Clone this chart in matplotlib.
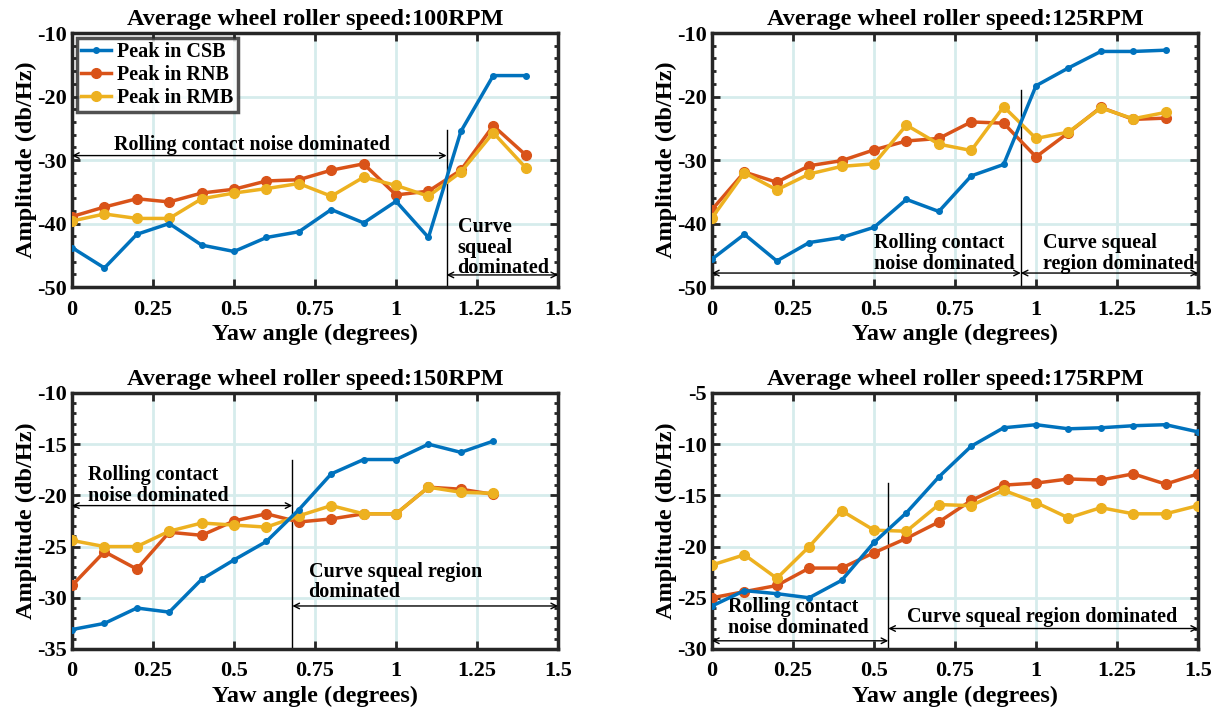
import numpy as np
import matplotlib.pyplot as plt
from matplotlib.ticker import MultipleLocator

plt.rcParams['font.family'] = ['Liberation Serif', 'DejaVu Serif']
plt.rcParams['font.weight'] = 'bold'
plt.rcParams['axes.unicode_minus'] = False

# Dane
kat_15 = [0, 0.1, 0.2, 0.3, 0.4, 0.5, 0.6, 0.7, 0.8, 0.9, 1.0, 1.1, 1.2, 1.3, 1.4]
kat_14 = [0, 0.1, 0.2, 0.3, 0.4, 0.5, 0.6, 0.7, 0.8, 0.9, 1.0, 1.1, 1.2, 1.3]
kat_16 = [0, 0.1, 0.2, 0.3, 0.4, 0.5, 0.6, 0.7, 0.8, 0.9, 1.0, 1.1, 1.2, 1.3, 1.4, 1.5]

csb_100 = [-43.8, -47.0, -41.7, -40.0, -43.4, -44.4, -42.2, -41.3, -37.8, -39.9, -36.5, -42.2, -25.5, -16.7, -16.7]
rnb_100 = [-38.9, -37.4, -36.1, -36.6, -35.2, -34.6, -33.3, -33.1, -31.6, -30.6, -35.5, -34.9, -31.6, -24.6, -29.2]
rmb_100 = [-39.6, -38.5, -39.2, -39.2, -36.1, -35.2, -34.5, -33.7, -35.7, -32.7, -34.0, -35.7, -31.9, -25.7, -31.2]

csb_125 = [-45.6, -41.7, -45.9, -43.0, -42.2, -40.6, -36.2, -38.1, -32.5, -30.7, -18.3, -15.5, -12.9, -12.9, -12.7]
rnb_125 = [-37.8, -31.9, -33.5, -30.9, -30.1, -28.4, -27.0, -26.6, -24.0, -24.2, -29.5, -25.7, -21.7, -23.6, -23.4]
rmb_125 = [-39.1, -32.0, -34.7, -32.2, -31.0, -30.6, -24.5, -27.5, -28.5, -21.6, -26.6, -25.6, -21.8, -23.5, -22.5]

csb_150 = [-33.1, -32.5, -31.0, -31.4, -28.2, -26.3, -24.5, -21.4, -17.9, -16.5, -16.5, -15.0, -15.8, -14.7]
rnb_150 = [-28.8, -25.5, -27.2, -23.6, -23.9, -22.5, -21.8, -22.6, -22.3, -21.8, -21.8, -19.2, -19.4, -19.9]
rmb_150 = [-24.4, -25.0, -25.0, -23.5, -22.7, -22.9, -23.1, -22.0, -21.0, -21.8, -21.8, -19.2, -19.7, -19.8]

csb_175 = [-25.8, -24.3, -24.6, -25.0, -23.3, -19.6, -16.7, -13.2, -10.2, -8.4, -8.1, -8.5, -8.4, -8.2, -8.1, -8.8]
rnb_175 = [-25.0, -24.4, -23.8, -22.1, -22.1, -20.6, -19.2, -17.6, -15.5, -14.0, -13.8, -13.4, -13.5, -12.9, -13.9, -12.9]
rmb_175 = [-21.8, -20.8, -23.1, -20.0, -16.5, -18.4, -18.5, -15.9, -16.0, -14.5, -15.7, -17.2, -16.2, -16.8, -16.8, -16.0]

tytuly = ['Average wheel roller speed:100RPM', 'Average wheel roller speed:125RPM',
          'Average wheel roller speed:150RPM', 'Average wheel roller speed:175RPM']

niebieski = '#0072BD'
czerwony = '#D95319'
zolty = '#EDB120'
ramka = '#262626'

fig = plt.figure(figsize=(12.19, 7.12), dpi=100)
pozycje = [[0.0591, 0.5969, 0.3987, 0.3567], [0.5841, 0.5969, 0.3987, 0.3567],
           [0.0591, 0.0885, 0.3987, 0.3596], [0.5841, 0.0885, 0.3987, 0.3596]]
dane = [(kat_15, csb_100, rnb_100, rmb_100), (kat_15, csb_125, rnb_125, rmb_125),
        (kat_14, csb_150, rnb_150, rmb_150), (kat_16, csb_175, rnb_175, rmb_175)]
ylimy = [(-50, -10), (-50, -10), (-35, -10), (-30, -5)]
kroki = [(10, 2), (10, 2), (5, 1), (5, 1)]

osie = []
for i in range(4):
    ax = fig.add_axes(pozycje[i])
    x, c, r, m = dane[i]
    ax.plot(x, c, '-o', color=niebieski, lw=2.5, ms=4, label='Peak in CSB', zorder=5)
    ax.plot(x, r, '-o', color=czerwony, lw=2.5, ms=7, label='Peak in RNB', zorder=4)
    ax.plot(x, m, '-o', color=zolty, lw=2.5, ms=7, label='Peak in RMB', zorder=4)
    ax.set_xlim(0, 1.5)
    ax.set_ylim(*ylimy[i])
    ax.set_xticks([0, 0.25, 0.5, 0.75, 1, 1.25, 1.5])
    ax.set_xticklabels(['0', '0.25', '0.5', '0.75', '1', '1.25', '1.5'])
    ax.yaxis.set_major_locator(MultipleLocator(kroki[i][0]))
    ax.yaxis.set_minor_locator(MultipleLocator(kroki[i][1]))
    ax.grid(True, which='major', color='#d6ecec', lw=2)
    ax.set_axisbelow(True)
    ax.tick_params(which='both', direction='in', top=True, right=True, labelsize=16,
                   color=ramka, width=2)
    ax.tick_params(which='major', length=6, pad=4)
    ax.tick_params(axis='x', which='major', pad=9)
    ax.tick_params(which='minor', length=3)
    for s in ax.spines.values():
        s.set_linewidth(2.5)
        s.set_color(ramka)
    ax.set_title(tytuly[i], fontsize=17.5, fontweight='bold', pad=6)
    ax.set_xlabel('Yaw angle (degrees)', fontsize=17.5, fontweight='bold', labelpad=3)
    ax.set_ylabel('Amplitude (db/Hz)', fontsize=17.5, fontweight='bold', labelpad=0)
    osie.append(ax)

leg = osie[0].legend(loc='upper left', fontsize=14.5, handlelength=1.5, handletextpad=0.3,
                     borderpad=0.2, labelspacing=0.15, fancybox=False, borderaxespad=0.25)
leg.get_frame().set_edgecolor(ramka)
leg.get_frame().set_linewidth(2.5)
leg.set_zorder(10)

strzalka = dict(arrowstyle='<->', color='black', lw=1, shrinkA=0, shrinkB=0)
fs = 14.5

# 100RPM
ax = osie[0]
ax.plot([1.156, 1.156], [-25.2, -50], color='black', lw=1)
ax.annotate('', xy=(0, -29.3), xytext=(1.156, -29.3), arrowprops=strzalka)
ax.text(0.555, -27.7, 'Rolling contact noise dominated', ha='center', va='center', fontsize=fs)
ax.annotate('', xy=(1.156, -48.1), xytext=(1.5, -48.1), arrowprops=strzalka)
ax.text(1.19, -43.8, 'Curve\nsqueal\ndominated', ha='left', va='center', fontsize=fs, linespacing=1.05)

# 125RPM
ax = osie[1]
ax.plot([0.953, 0.953], [-18.9, -50], color='black', lw=1)
ax.annotate('', xy=(0, -47.8), xytext=(0.953, -47.8), arrowprops=strzalka)
ax.annotate('', xy=(0.953, -47.8), xytext=(1.5, -47.8), arrowprops=strzalka)
ax.text(0.5, -44.7, 'Rolling contact\nnoise dominated', ha='left', va='center', fontsize=fs, linespacing=1.05)
ax.text(1.023, -44.7, 'Curve squeal\nregion dominated', ha='left', va='center', fontsize=fs, linespacing=1.05)

# 150RPM
ax = osie[2]
ax.plot([0.68, 0.68], [-16.5, -35], color='black', lw=1)
ax.annotate('', xy=(0, -21.0), xytext=(0.68, -21.0), arrowprops=strzalka)
ax.text(0.05, -19.0, 'Rolling contact\nnoise dominated', ha='left', va='center', fontsize=fs, linespacing=1.05)
ax.annotate('', xy=(0.68, -30.8), xytext=(1.5, -30.8), arrowprops=strzalka)
ax.text(0.73, -28.45, 'Curve squeal region\ndominated', ha='left', va='center', fontsize=fs, linespacing=1.05)

# 175RPM
ax = osie[3]
ax.plot([0.544, 0.544], [-13.8, -30], color='black', lw=1)
ax.annotate('', xy=(0, -29.2), xytext=(0.544, -29.2), arrowprops=strzalka)
ax.text(0.05, -26.95, 'Rolling contact\nnoise dominated', ha='left', va='center', fontsize=fs, linespacing=1.05)
ax.annotate('', xy=(0.544, -28.0), xytext=(1.5, -28.0), arrowprops=strzalka)
ax.text(1.018, -26.9, 'Curve squeal region dominated', ha='center', va='center', fontsize=fs)

plt.savefig('out.png', dpi=100)
